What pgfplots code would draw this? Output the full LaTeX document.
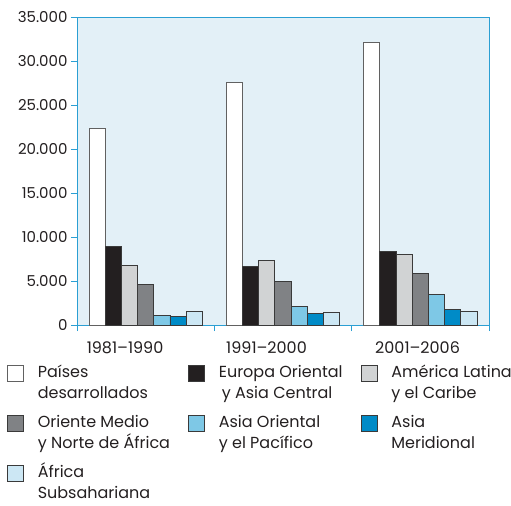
\documentclass[border=0pt]{standalone}
\usepackage{fontspec}
\setmainfont{Poppins}
\usepackage{pgfplots}
\pgfplotsset{compat=1.18}
\definecolor{bg}{HTML}{E3F0F7}
\definecolor{axblue}{HTML}{2B9FD3}
\definecolor{txt}{HTML}{231F20}
\definecolor{bdr}{HTML}{3A3A3A}
\definecolor{cblack}{HTML}{231F20}
\definecolor{clgray}{HTML}{D1D3D4}
\definecolor{cgray}{HTML}{808285}
\definecolor{clblue}{HTML}{7EC8E6}
\definecolor{cblue}{HTML}{008BC7}
\definecolor{cpale}{HTML}{CCE7F4}
\pgfplotsset{
  /pgfplots/area legend/.style={/pgfplots/legend image code/.code={\draw[##1] (0bp,-4bp) rectangle (16bp,12bp);}},
}
\newcommand{\lt}[1]{\begin{tabular}[t]{@{}l@{}}#1\end{tabular}}
\begin{document}
\begin{tikzpicture}
\begin{axis}[
  at={(0,0)}, anchor=south west, scale only axis, width=412bp, height=308bp,
  xmin=0, xmax=3, ymin=0, ymax=35000,
  axis background/.style={fill=bg},
  axis line style={draw=axblue, line width=0.9bp},
  tick align=outside, major tick length=6bp,
  every tick/.style={draw=axblue, line width=0.9bp},
  xtick={0,1,2,3}, xticklabels={,,,},
  extra x ticks={0.35,1.38,2.48},
  extra x tick labels={1981--1990,1991--2000,2001--2006},
  extra x tick style={major tick length=0pt, tick style={draw=none}},
  xticklabel style={yshift=-13bp, font=\fontsize{16bp}{18bp}\selectfont},
  ytick={0,5000,10000,15000,20000,25000,30000,35000},
  scaled y ticks=false,
  /pgf/number format/1000 sep={.},
  /pgf/number format/assume math mode=true,
  tick label style={font=\fontsize{15bp}{18bp}\selectfont, text=txt},
  ytick pos=left, xtick pos=bottom,
  legend columns=3,
  legend style={at={(-0.1699,-0.117)}, anchor=north west, draw=none, fill=none,
    inner sep=0pt, outer sep=0pt, font=\fontsize{16bp}{21bp}\selectfont, text=txt,
    cells={anchor=base west},
    /tikz/every odd column/.append style={column sep=12bp},
    /tikz/every even column/.append style={column sep=16bp},
    row sep=28.5bp},
]
\addplot[ybar, bar width=0.118, bar shift=-0.354, fill=white, draw=bdr!80, line width=0.8bp, area legend]
  coordinates {(0.5,22300) (1.5,27600) (2.5,32100)};
\addlegendentry{\lt{Países\\desarrollados}}
\addplot[ybar, bar width=0.118, bar shift=-0.236, fill=cblack, draw=bdr, line width=0.8bp, area legend]
  coordinates {(0.5,8900) (1.5,6700) (2.5,8400)};
\addlegendentry{\lt{Europa Oriental\\\hspace{3bp}y Asia Central}}
\addplot[ybar, bar width=0.118, bar shift=-0.118, fill=clgray, draw=bdr, line width=0.8bp, area legend]
  coordinates {(0.5,6800) (1.5,7350) (2.5,8000)};
\addlegendentry{\lt{América Latina\\y el Caribe}}
\addplot[ybar, bar width=0.118, bar shift=0, fill=cgray, draw=bdr, line width=0.8bp, area legend]
  coordinates {(0.5,4600) (1.5,5000) (2.5,5900)};
\addlegendentry{\lt{Oriente Medio\\y Norte de África}}
\addplot[ybar, bar width=0.118, bar shift=0.118, fill=clblue, draw=bdr, line width=0.8bp, area legend]
  coordinates {(0.5,1050) (1.5,2080) (2.5,3450)};
\addlegendentry{\lt{Asia Oriental\\y el Pacífico}}
\addplot[ybar, bar width=0.118, bar shift=0.236, fill=cblue, draw=bdr, line width=0.8bp, area legend]
  coordinates {(0.5,950) (1.5,1330) (2.5,1780)};
\addlegendentry{\lt{Asia\\Meridional}}
\addplot[ybar, bar width=0.118, bar shift=0.354, fill=cpale, draw=bdr, line width=0.8bp, area legend]
  coordinates {(0.5,1520) (1.5,1400) (2.5,1520)};
\addlegendentry{\lt{África\\Subsahariana}}
\end{axis}
\pgfresetboundingbox
\path[use as bounding box] (-77bp,-181bp) rectangle (434bp,325bp);
\end{tikzpicture}
\end{document}
